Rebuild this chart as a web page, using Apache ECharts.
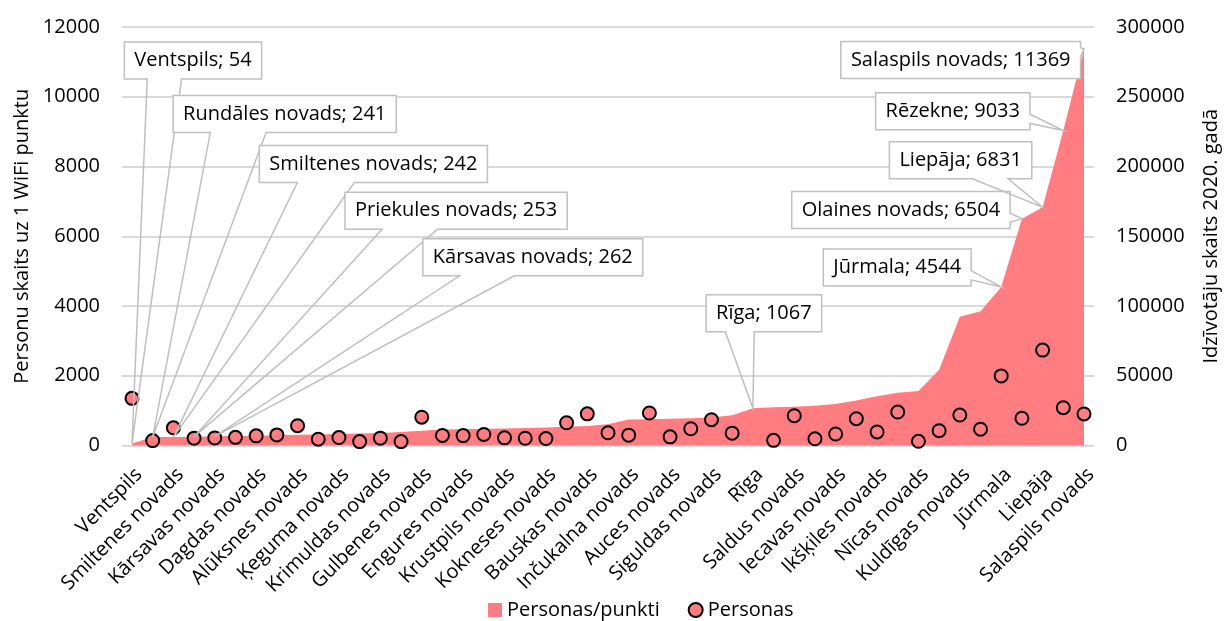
<!DOCTYPE html>
<html>
<head>
<meta charset="utf-8">
<script src="https://cdn.jsdelivr.net/npm/echarts@6/dist/echarts.min.js"></script>
<style>
  html, body { margin: 0; padding: 0; background: #fff; }
  #chart { width: 1229px; height: 621px; }
</style>
</head>
<body>
<div id="chart"></div>
<script>
// Municipalities, sorted by persons per WiFi point
const categories = [
  'Ventspils', 'Rundāles novads', 'Smiltenes novads', 'Priekules novads', 'Kārsavas novads',
  'Riebiņu novads', 'Dagdas novads', 'Ilūkstes novads', 'Alūksnes novads', 'Viesītes novads',
  'Ķeguma novads', 'Rugāju novads', 'Krimuldas novads', 'Vaiņodes novads', 'Gulbenes novads',
  'Salacgrīvas novads', 'Engures novads', 'Kandavas novads', 'Krustpils novads', 'Neretas novads',
  'Kokneses novads', 'Ludzas novads', 'Bauskas novads', 'Ropažu novads', 'Inčukalna novads',
  'Tukuma novads', 'Auces novads', 'Krāslavas novads', 'Siguldas novads', 'Carnikavas novads',
  'Rīga', 'Pāvilostas novads', 'Saldus novads', 'Skrundas novads', 'Iecavas novads',
  'Limbažu novads', 'Ikšķiles novads', 'Madonas novads', 'Nīcas novads', 'Ādažu novads',
  'Kuldīgas novads', 'Babītes novads', 'Jūrmala', 'Olaines novads', 'Liepāja',
  'Rēzekne', 'Salaspils novads'
];

// Persons per one WiFi point (left axis)
const personsPerPoint = [
  54, 241, 242, 253, 262, 270, 280, 292, 305, 318,
  330, 345, 360, 385, 420, 458, 468, 478, 490, 503,
  518, 540, 560, 610, 745, 755, 765, 780, 800, 870,
  1067, 1095, 1112, 1140, 1189, 1290, 1410, 1513, 1562, 2170,
  3692, 3850, 4544, 6504, 6831, 9033, 11369
];

// Population in 2020 (right axis); Rīga lies above the axis range
const population = [
  33800, 3500, 12700, 5250, 5450, 5850, 6900, 7600, 14200, 4500,
  5700, 2800, 5250, 2800, 20300, 7200, 7100, 7900, 5500, 5200,
  5000, 16300, 22700, 9100, 7400, 23300, 6200, 12000, 18500, 8850,
  null, 3700, 21350, 4800, 8240, 19200, 9700, 24000, 3000, 10600,
  21850, 11700, 49900, 19500, 68400, 27100, 22600
];

// Points that carry a callout label
const calloutNames = [
  'Ventspils', 'Rundāles novads', 'Smiltenes novads', 'Priekules novads', 'Kārsavas novads',
  'Rīga', 'Jūrmala', 'Olaines novads', 'Liepāja', 'Rēzekne', 'Salaspils novads'
];

const leftTicks = { min: 0, max: 12000, interval: 2000 };
const rightTicks = { min: 0, max: 300000, interval: 50000 };

// Callout box centre, offset from the point it describes (px)
const calloutShift = {
  'Ventspils': [61, -383],
  'Rundāles novads': [132, -323],
  'Smiltenes novads': [200, -273],
  'Priekules novads': [262, -226],
  'Kārsavas novads': [318, -179],
  'Rīga': [11, -95],
  'Jūrmala': [-104, -19.5],
  'Olaines novads': [-121, -8.6],
  'Liepāja': [-82, -47],
  'Rēzekne': [-110.5, -19.3],
  'Salaspils novads': [-123.3, 11]
};

const FONT_FAMILY = '"Open Sans", "Noto Sans", sans-serif';
const FONT_SIZE = 20;
const TEXT_COLOR = '#000';
const GRID_COLOR = '#d9d9d9';
const AREA_COLOR = '#FF7C80';
const BOX_PAD_X = 10;
const BOX_H = 37;

const measureCtx = document.createElement('canvas').getContext('2d');
function textWidth(str) {
  measureCtx.font = FONT_SIZE + 'px ' + FONT_FAMILY;
  return measureCtx.measureText(str).width;
}

const calloutData = calloutNames.map(n => {
  const i = categories.indexOf(n);
  return [i, personsPerPoint[i]];
});

// Rectangular callout with a wedge pointing at the data point
function renderCallout(params, api) {
  const idx = api.value(0);
  const val = api.value(1);
  const name = categories[idx];
  const tip = api.coord([idx, val]);
  const text = name + '; ' + val;
  const shift = calloutShift[name];
  const w = textWidth(text) + 2 * BOX_PAD_X;
  const h = BOX_H;
  const cx = tip[0] + shift[0];
  const cy = tip[1] + shift[1];
  const l = cx - w / 2, t = cy - h / 2, r = cx + w / 2, b = cy + h / 2;
  const xPos = tip[0], yPos = tip[1];
  const dxPos = xPos - cx, dyPos = yPos - cy;
  const dz = Math.abs(dyPos) - Math.abs(dxPos * h / w);
  const x1 = l + w * (dxPos > 0 ? 7 : 2) / 12;
  const x2 = l + w * (dxPos > 0 ? 10 : 5) / 12;
  const y1 = t + h * (dyPos > 0 ? 7 : 2) / 12;
  const y2 = t + h * (dyPos > 0 ? 10 : 5) / 12;
  const xl = dz > 0 ? l : (dxPos > 0 ? l : xPos);
  const yl = dz > 0 ? y1 : (dxPos > 0 ? y1 : yPos);
  const xt = dz > 0 ? (dyPos > 0 ? x1 : xPos) : x1;
  const yt = dz > 0 ? (dyPos > 0 ? t : yPos) : t;
  const xr = dz > 0 ? r : (dxPos > 0 ? xPos : r);
  const yr = dz > 0 ? y1 : (dxPos > 0 ? yPos : y1);
  const xb = dz > 0 ? (dyPos > 0 ? xPos : x1) : x1;
  const yb = dz > 0 ? (dyPos > 0 ? yPos : b) : b;
  const outline = [
    [l, t], [x1, t], [xt, yt], [x2, t], [r, t],
    [r, y1], [xr, yr], [r, y2], [r, b],
    [x2, b], [xb, yb], [x1, b], [l, b],
    [l, y2], [xl, yl], [l, y1]
  ];
  return {
    type: 'group',
    children: [
      { type: 'rect', shape: { x: l, y: t, width: w, height: h }, style: { fill: '#fff' } },
      { type: 'polygon', shape: { points: outline },
        style: { fill: null, stroke: '#bfbfbf', lineWidth: 1.5 } },
      { type: 'text', style: {
          text: text, x: cx, y: cy, align: 'center', verticalAlign: 'middle',
          font: FONT_SIZE + 'px ' + FONT_FAMILY, fill: TEXT_COLOR } }
    ]
  };
}

const axisText = { color: TEXT_COLOR, fontSize: FONT_SIZE, fontFamily: FONT_FAMILY };
const plainNumber = v => String(v);

const chart = echarts.init(document.getElementById('chart'), null, { renderer: 'canvas' });
chart.setOption({
  animation: false,
  textStyle: { fontFamily: FONT_FAMILY },
  grid: { left: 132, right: 134, top: 27, bottom: 175.5, containLabel: false },
  legend: {
    top: 595,
    left: 483,
    itemWidth: 14,
    itemHeight: 14,
    itemGap: 28,
    textStyle: axisText,
    data: [
      { name: 'Personas/punkti', icon: 'rect' },
      { name: 'Personas', icon: 'circle' }
    ]
  },
  xAxis: {
    type: 'category',
    data: categories,
    boundaryGap: false,
    axisLine: { show: true, lineStyle: { color: GRID_COLOR, width: 2 } },
    axisTick: { show: false },
    axisLabel: Object.assign({}, axisText, {
      interval: 1, rotate: 45, margin: 19, verticalAlign: 'top'
    }),
    splitLine: { show: false }
  },
  yAxis: [
    {
      type: 'value',
      min: leftTicks.min, max: leftTicks.max, interval: leftTicks.interval,
      name: 'Personu skaits uz 1 WiFi punktu',
      nameLocation: 'middle',
      nameRotate: 90,
      nameGap: 98,
      nameTextStyle: axisText,
      axisLine: { show: false },
      axisTick: { show: true, length: 10, lineStyle: { color: GRID_COLOR, width: 2 } },
      axisLabel: Object.assign({}, axisText, { margin: 32, formatter: plainNumber }),
      splitLine: { show: true, lineStyle: { color: GRID_COLOR, width: 2 } }
    },
    {
      type: 'value',
      position: 'right',
      min: rightTicks.min, max: rightTicks.max, interval: rightTicks.interval,
      name: 'Idzīvotāju skaits 2020. gadā',
      nameLocation: 'middle',
      nameRotate: 90,
      nameGap: 117,
      nameTextStyle: axisText,
      axisLine: { show: false },
      axisTick: { show: true, length: 10, lineStyle: { color: GRID_COLOR, width: 2 } },
      axisLabel: Object.assign({}, axisText, { margin: 32, formatter: plainNumber }),
      splitLine: { show: false }
    }
  ],
  series: [
    {
      name: 'Personas/punkti',
      type: 'line',
      data: personsPerPoint,
      yAxisIndex: 0,
      showSymbol: false,
      symbol: 'none',
      lineStyle: { width: 0 },
      itemStyle: { color: AREA_COLOR },
      areaStyle: { color: AREA_COLOR, opacity: 1 },
      z: 2
    },
    {
      name: 'Personas',
      type: 'scatter',
      data: population,
      yAxisIndex: 1,
      symbol: 'circle',
      symbolSize: 13,
      itemStyle: { color: AREA_COLOR, borderColor: '#000', borderWidth: 2, opacity: 1 },
      z: 3
    },
    {
      type: 'custom',
      name: 'callouts',
      data: calloutData,
      xAxisIndex: 0,
      yAxisIndex: 0,
      renderItem: renderCallout,
      clip: false,
      silent: true,
      z: 10
    }
  ]
});
</script>
</body>
</html>
